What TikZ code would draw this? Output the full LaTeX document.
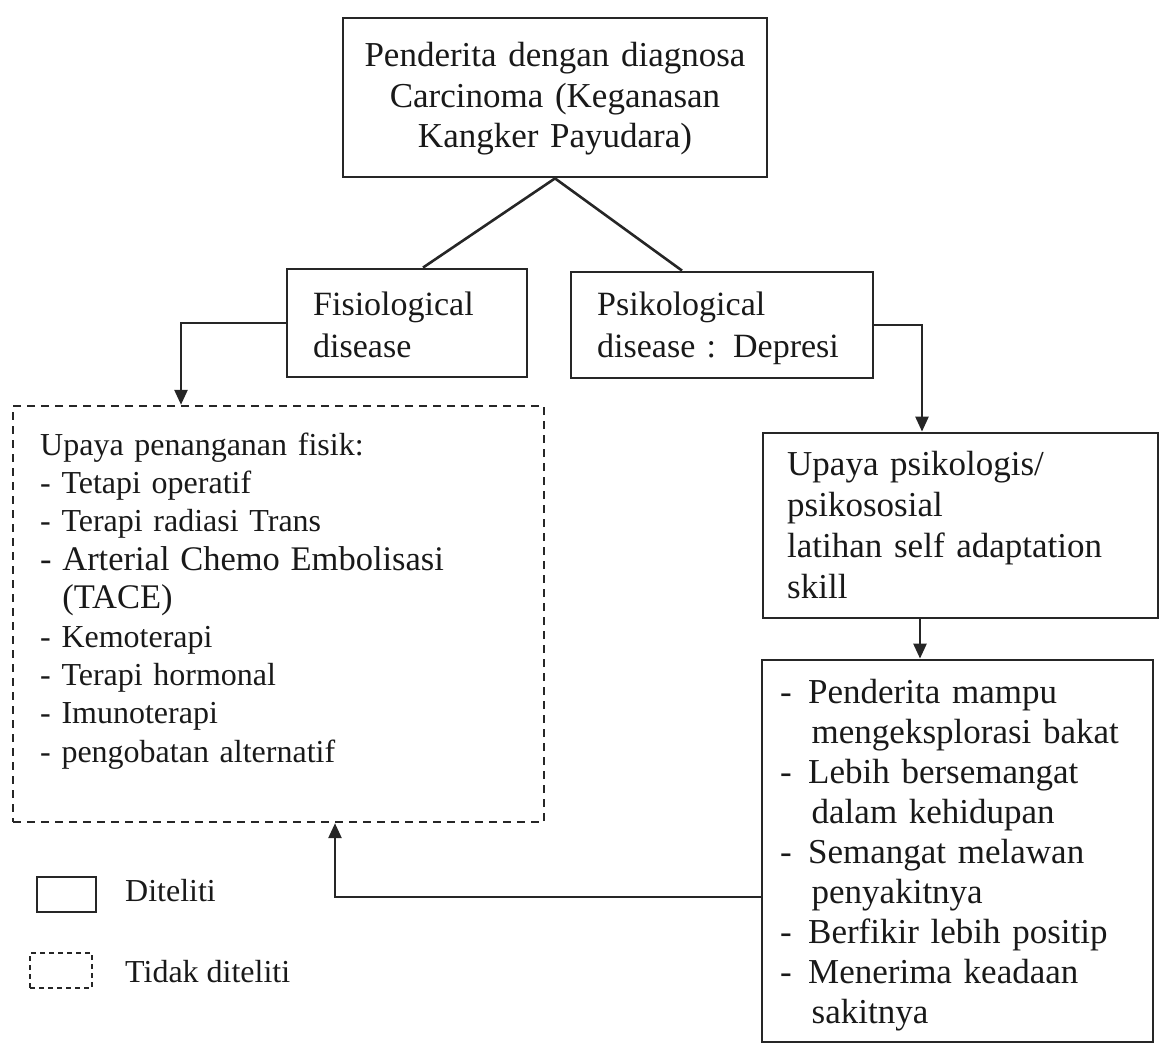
\documentclass[tikz,border=0pt]{standalone}
\usepackage{fontspec}
\setmainfont{Liberation Serif}
\usetikzlibrary{arrows.meta,calc}
\begin{document}
\begin{tikzpicture}[x=1pt,y=-1pt,
  boxline/.style={draw=black!85,line width=2.8pt,inner sep=0pt},
  solidbox/.style={boxline,rectangle},
  dashbox/.style={boxline,rectangle,dash pattern=on 8pt off 6pt,line width=2.4pt},
  conn/.style={draw=black!85,line width=2.6pt},
  arr/.style={conn,-{Triangle[length=15pt,width=13pt]}},
  txt/.style={inner sep=0pt,text=black!90,align=left,anchor=base west}
]
\useasboundingbox (0,0) rectangle (1159,1046);

% boxes
\node[solidbox,minimum width=424pt,minimum height=159pt] (top) at (555,97.5) {};
\node[solidbox,minimum width=240pt,minimum height=108pt] (fisio) at (407,323) {};
\node[solidbox,minimum width=302pt,minimum height=106pt] (psiko) at (722,325) {};
\node[dashbox,minimum width=531pt,minimum height=416pt] (fisik) at (278.5,614) {};
\node[solidbox,minimum width=395pt,minimum height=185pt] (upaya) at (960.5,525.5) {};
\node[solidbox,minimum width=391pt,minimum height=382pt] (hasil) at (957.5,851) {};
\node[solidbox,minimum width=59pt,minimum height=35pt,line width=2.2pt] (leg1) at (66.5,894.5) {};
\node[dashbox,minimum width=62pt,minimum height=35pt,dash pattern=on 5pt off 4pt,line width=1.8pt] (leg2) at (61,970.5) {};

% texts
\node[txt,anchor=base,align=center,text width=420pt,font=\fontsize{35}{40.5}\selectfont] (ttop) at (555,67)
  {Penderita dengan diagnosa\\Carcinoma (Keganasan\\Kangker Payudara)};
\node[txt,text width=220pt,font=\fontsize{34}{42}\selectfont] (tfisio) at (313,315)
  {Fisiological\\disease};
\node[txt,text width=280pt,font=\fontsize{34}{42}\selectfont] (tpsiko) at (597,315)
  {Psikological\\disease : Depresi};
\node[txt,text width=500pt,font=\fontsize{32}{38.4}\selectfont] (tfisik) at (40,455)
  {Upaya penanganan fisik:\\
   - Tetapi operatif\\
   - Terapi radiasi Trans\\
   {\fontsize{34.5}{38.4}\selectfont - Arterial Chemo Embolisasi}\\
   {\fontsize{34.5}{38.4}\selectfont \phantom{- }(TACE)}\\
   - Kemoterapi\\
   - Terapi hormonal\\
   - Imunoterapi\\
   - pengobatan alternatif};
\node[txt,text width=360pt,font=\fontsize{35}{41}\selectfont] (tupaya) at (787,475)
  {Upaya psikologis/\\psikososial\\latihan self adaptation\\skill};
\node[txt,text width=370pt,font=\fontsize{35}{40}\selectfont] (thasil) at (780,703)
  {\makebox[0.8em][l]{-}Penderita mampu\\
   \hspace*{0.9em}mengeksplorasi bakat\\
   \makebox[0.8em][l]{-}Lebih bersemangat\\
   \hspace*{0.9em}dalam kehidupan\\
   \makebox[0.8em][l]{-}Semangat melawan\\
   \hspace*{0.9em}penyakitnya\\
   \makebox[0.8em][l]{-}Berfikir lebih positip\\
   \makebox[0.8em][l]{-}Menerima keadaan\\
   \hspace*{0.9em}sakitnya};
\node[txt,font=\fontsize{32}{38}\selectfont] (tleg1) at (125,901) {Diteliti};
\node[txt,font=\fontsize{32}{38}\selectfont] (tleg2) at (125,982) {Tidak diteliti};

% connectors
\draw[conn] ([xshift=16pt]fisio.north) -- (top.south) -- ([xshift=-40pt]psiko.north);
\draw[arr] (fisio.west) -| ([xshift=-97.5pt]fisik.north);
\draw[arr] (psiko.east) -| ([xshift=-38.5pt]upaya.north);
\draw[arr] ([xshift=-40.5pt]upaya.south) -- ([xshift=-40.5pt]upaya.south |- hasil.north);
\draw[arr] ([yshift=-46pt]hasil.west) -| ([xshift=56.5pt]fisik.south);
\end{tikzpicture}
\end{document}
